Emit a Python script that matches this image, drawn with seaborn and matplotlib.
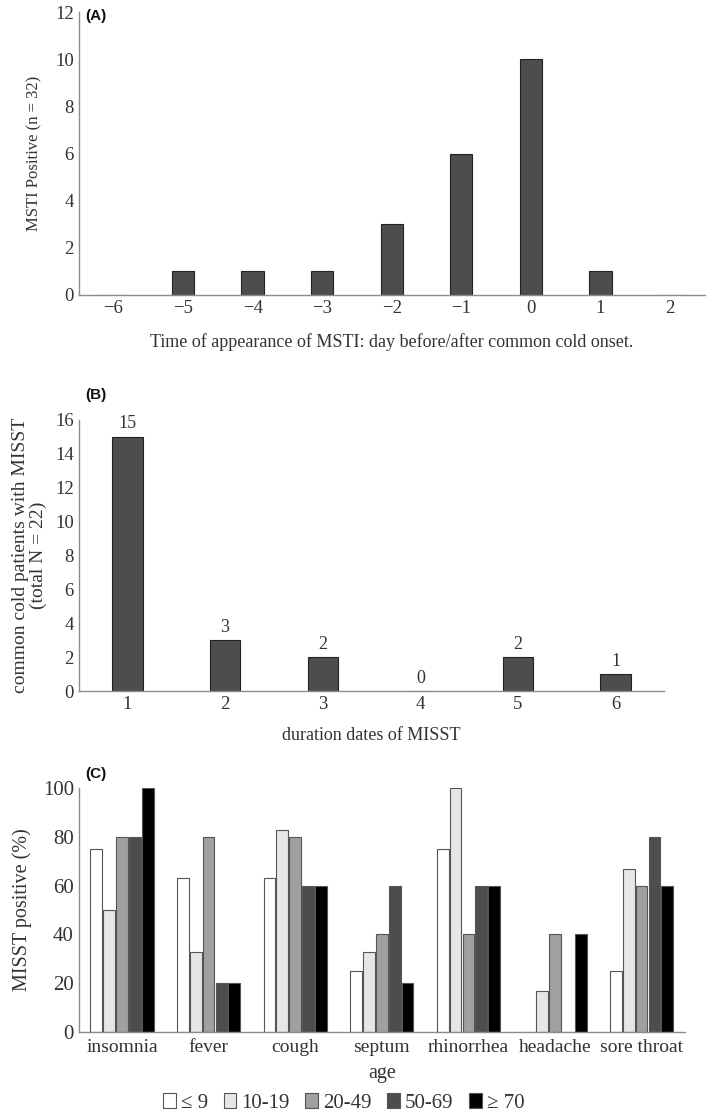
import pandas as pd
import numpy as np
import matplotlib.pyplot as plt
import seaborn as sns
from matplotlib.patches import Patch

# --- DATA ---
# Panel A: day of MSTI appearance relative to cold onset
days_a = ['\u22126', '\u22125', '\u22124', '\u22123', '\u22122', '\u22121', '0', '1', '2']
counts_a = [0, 1, 1, 1, 3, 6, 10, 1, 0]

# Panel B: duration of MISST (days)
duration_b = ['1', '2', '3', '4', '5', '6']
counts_b = [15, 3, 2, 0, 2, 1]

# Panel C: MISST positive (%) by symptom and age group
symptoms_c = ['insomnia', 'fever', 'cough', 'septum', 'rhinorrhea', 'headache', 'sore throat']
age_groups = ['\u2264 9', '10-19', '20-49', '50-69', '\u2265 70']
pct_le9 = [75, 63, 63, 25, 75, 0, 25]
pct_10_19 = [50, 33, 83, 33, 100, 17, 67]
pct_20_49 = [80, 80, 80, 40, 40, 40, 60]
pct_50_69 = [80, 20, 60, 60, 60, 0, 80]
pct_ge70 = [100, 20, 60, 20, 60, 40, 60]
age_colors = ['#ffffff', '#e6e6e6', '#a0a0a0', '#4d4d4d', '#000000']

# --- STYLE ---
sns.set_theme(style='white')
plt.rcParams['font.family'] = ['Liberation Serif', 'DejaVu Serif']
TEXT = '#333333'
SPINE = '#8c8c8c'
BAR_DARK = '#4d4d4d'

fig = plt.figure(figsize=(7.09, 11.13), dpi=100)


def style_axis(ax, size=13.5):
    for side in ['top', 'right']:
        ax.spines[side].set_visible(False)
    for side in ['left', 'bottom']:
        ax.spines[side].set_color(SPINE)
        ax.spines[side].set_linewidth(1.0)
    ax.tick_params(axis='both', length=0, colors=TEXT, labelsize=size)


# ==========================================
# --- PANEL A ---
# ==========================================
df_a = pd.DataFrame({'day': days_a, 'count': counts_a})
ax_a = fig.add_axes([0.111, 0.735, 0.883, 0.254])
sns.barplot(data=df_a, x='day', y='count', order=days_a, color=BAR_DARK,
            width=0.32, edgecolor='#222222', linewidth=0.8, saturation=1, ax=ax_a)
ax_a.set_xlim(-0.5, 8.5)
ax_a.set_ylim(0, 12)
ax_a.set_yticks(range(0, 13, 2))
ax_a.set_xlabel('Time of appearance of MSTI: day before/after common cold onset.',
                fontsize=13, color=TEXT, labelpad=12)
ax_a.set_ylabel('MSTI Positive (n = 32)', fontsize=12, color=TEXT, labelpad=9)
style_axis(ax_a)
fig.text(0.12, 0.986, '(A)', fontsize=11, fontweight='bold', family='Liberation Sans',
         va='center', ha='left', color='#111111')

# ==========================================
# --- PANEL B ---
# ==========================================
df_b = pd.DataFrame({'duration': duration_b, 'count': counts_b})
ax_b = fig.add_axes([0.111, 0.379, 0.826, 0.244])
sns.barplot(data=df_b, x='duration', y='count', order=duration_b, color=BAR_DARK,
            width=0.31, edgecolor='#222222', linewidth=0.8, saturation=1, ax=ax_b)
ax_b.set_xlim(-0.5, 5.5)
ax_b.set_ylim(0, 16)
ax_b.set_yticks(range(0, 17, 2))
ax_b.bar_label(ax_b.containers[0], labels=[str(v) for v in counts_b],
               padding=3, fontsize=13, color=TEXT)
ax_b.set_xlabel('duration dates of MISST', fontsize=13, color=TEXT, labelpad=10)
ax_b.set_ylabel('common cold patients with MISST\n(total N = 22)', fontsize=14,
                color=TEXT, labelpad=6, linespacing=1.0)
style_axis(ax_b)
fig.text(0.12, 0.645, '(B)', fontsize=11, fontweight='bold', family='Liberation Sans',
         va='center', ha='left', color='#111111')

# ==========================================
# --- PANEL C ---
# ==========================================
df_c = pd.DataFrame({
    'symptom': symptoms_c * 5,
    'age': np.repeat(age_groups, len(symptoms_c)),
    'pct': pct_le9 + pct_10_19 + pct_20_49 + pct_50_69 + pct_ge70,
})
ax_c = fig.add_axes([0.111, 0.0728, 0.855, 0.219])
sns.barplot(data=df_c, x='symptom', y='pct', hue='age', order=symptoms_c,
            hue_order=age_groups, palette=age_colors, width=0.74, gap=0.08,
            edgecolor='#555555', linewidth=0.8, saturation=1, legend=False, ax=ax_c)
ax_c.set_xlim(-0.5, 6.5)
ax_c.set_ylim(0, 100)
ax_c.set_yticks(range(0, 101, 20))
ax_c.set_xlabel('age', fontsize=14.5, color=TEXT, labelpad=6)
ax_c.set_ylabel('MISST positive (%)', fontsize=14.5, color=TEXT, labelpad=8)
style_axis(ax_c)
ax_c.tick_params(axis='y', labelsize=15)
ax_c.tick_params(axis='x', labelsize=14, pad=5)
fig.text(0.12, 0.305, '(C)', fontsize=11, fontweight='bold', family='Liberation Sans',
         va='center', ha='left', color='#111111')

handles = [Patch(facecolor=c, edgecolor='#555555', linewidth=0.8) for c in age_colors]
fig.legend(handles, age_groups, loc='center', bbox_to_anchor=(0.485, 0.009), ncol=5,
           frameon=False, fontsize=15, handlelength=0.6, handleheight=0.7,
           handletextpad=0.25, columnspacing=0.75, labelcolor=TEXT)

plt.savefig('out.png', dpi=100)
plt.close()
